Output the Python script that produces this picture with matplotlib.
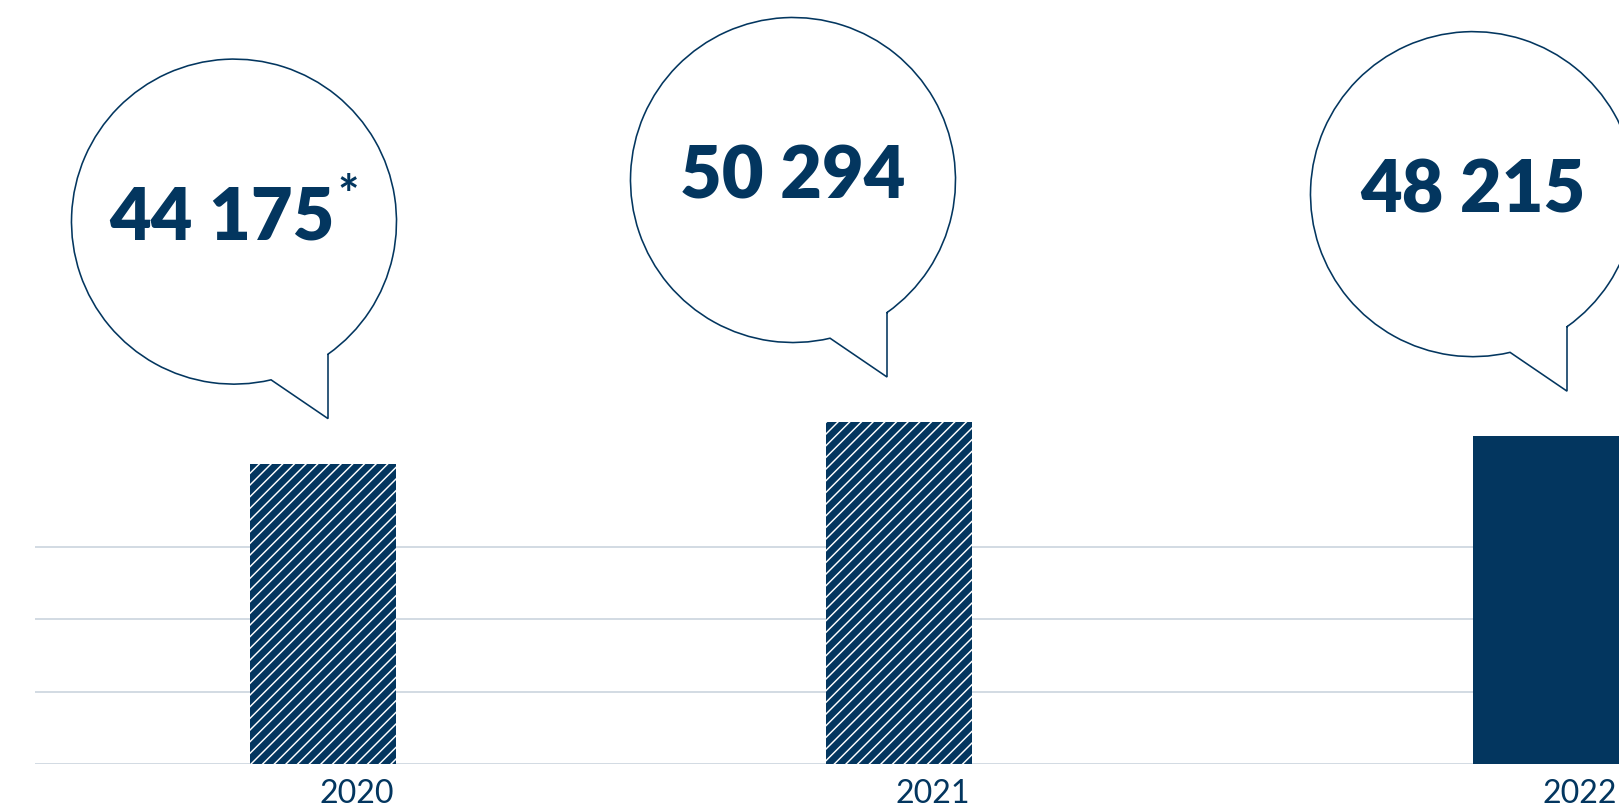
"""
Headcount bubbles - bar chart with speech bubbles.
"""

import numpy as np
import matplotlib.pyplot as plt
from matplotlib.path import Path
from matplotlib.patches import PathPatch
from matplotlib.transforms import IdentityTransform


# ======================================================
# Data
# ======================================================

years = ["2020", "2021", "2022"]
values = [44175, 50294, 48215]
labels = ["44 175", "50 294", "48 215"]
footnotes = ["*", "", ""]
hatched = [True, True, False]


# ======================================================
# Layout (pixels)
# ======================================================

W, H = 1619, 807
DPI = 70

NAVY = "#03365f"
GRID = "#d3dbe3"

bar_x = [323, 899, 1546]
bar_w = 146
base_px = 43
px_per_unit = 0.0068
grid_step = 10650
tip_dx = [5, -12, 21]

R = 162.5


def pt(p):
    # pixels -> points
    return p * 72 / DPI


plt.rcParams["font.family"] = ["Lato", "DejaVu Sans"]
plt.rcParams["hatch.linewidth"] = 1.5

fig = plt.figure(figsize=(W / DPI, H / DPI), dpi=DPI)
ax = fig.add_axes([0, base_px / H, 1, 1 - base_px / H])
ax.set_xlim(0, W)
ax.set_ylim(0, (H - base_px) / px_per_unit)
ax.axis("off")

# ======================================================
# Grid
# ======================================================

for k in range(4):
    ax.axhline(k * grid_step, xmin=36 / W, xmax=1,
               color=GRID, lw=pt(2), zorder=1)

# ======================================================
# Bars
# ======================================================

for x, v, h in zip(bar_x, values, hatched):
    ax.bar(
        x, v,
        width=bar_w,
        color=NAVY,
        edgecolor="white" if h else NAVY,
        lw=0,
        hatch="//" if h else None,
        zorder=2
    )

for x, y in zip(bar_x, years):
    ax.annotate(
        y,
        xy=(x + bar_w / 2, 0),
        xytext=(pt(-2), pt(-39)),
        textcoords="offset points",
        ha="right", va="baseline",
        fontsize=33, color=NAVY,
        annotation_clip=False
    )

# ======================================================
# Bubbles
# ======================================================

for x, v, dx, lab, fn in zip(bar_x, values, tip_dx, labels, footnotes):

    tip = ax.transData.transform((x + dx, v)) + np.array([0, 45])
    centre = tip + np.array([-94, 197])
    top = tip + np.array([0, 65])
    left = tip + np.array([-57, 39])

    a1 = np.degrees(np.arctan2(*(top - centre)[::-1]))
    a2 = np.degrees(np.arctan2(*(left - centre)[::-1])) + 360

    arc = Path.arc(a1, a2)
    verts = np.vstack([arc.vertices * R + centre, tip, top, top])
    codes = list(arc.codes) + [Path.LINETO, Path.LINETO, Path.CLOSEPOLY]

    bubble = PathPatch(
        Path(verts, codes),
        facecolor="white",
        edgecolor=NAVY,
        lw=pt(1.6),
        transform=IdentityTransform(),
        zorder=3
    )
    fig.add_artist(bubble)

    shift = -12 if fn else 0
    fig.text(
        tip[0] - 94 + shift, tip[1] + 179,
        lab,
        transform=IdentityTransform(),
        ha="center", va="baseline",
        fontsize=74, fontweight="heavy", color=NAVY,
        zorder=4
    )

    if fn:
        fig.text(
            tip[0] + 9, tip[1] + 206,
            fn,
            transform=IdentityTransform(),
            ha="left", va="baseline",
            fontsize=52, fontweight="bold", color=NAVY,
            zorder=4
        )

fig.savefig("out.png", dpi=DPI)
